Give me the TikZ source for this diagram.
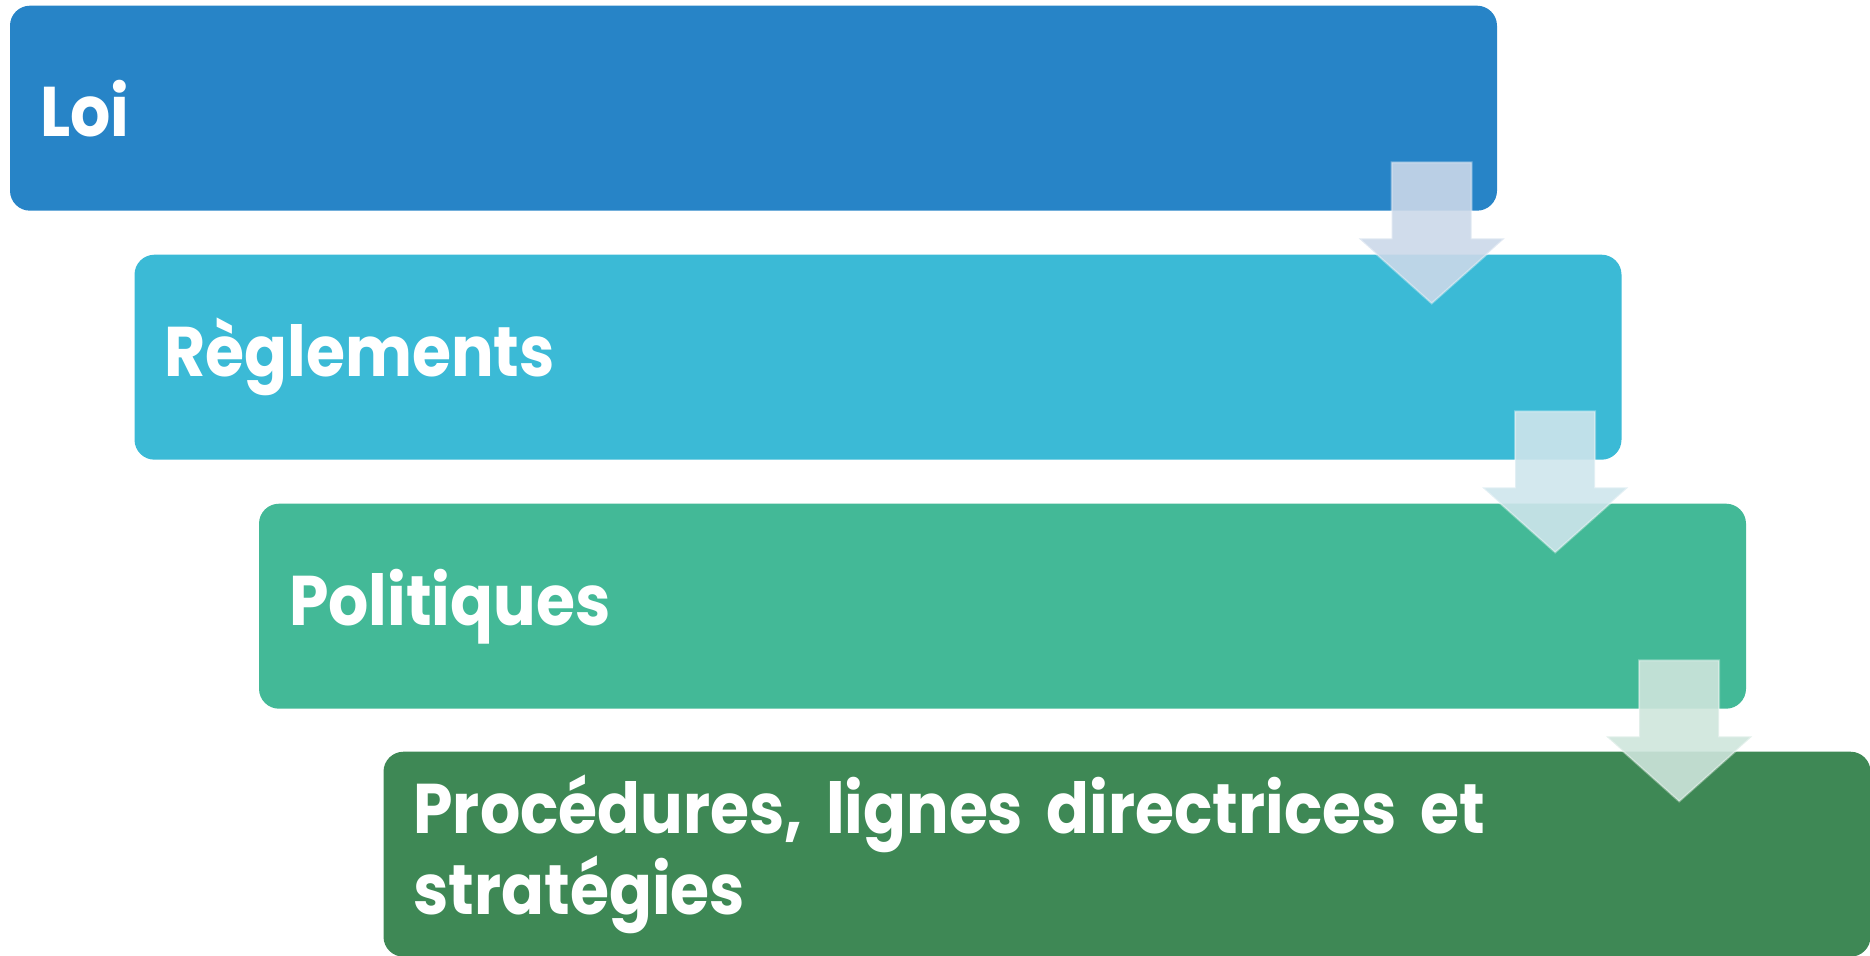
\documentclass[tikz,border=0pt]{standalone}
\usepackage{fontspec}
\setmainfont{Poppins}[FakeStretch=0.9]
\usetikzlibrary{calc}
\definecolor{loiblue}{HTML}{2784C7}
\definecolor{regcyan}{HTML}{3BBAD6}
\definecolor{polgreen}{HTML}{43B997}
\definecolor{procgreen}{HTML}{3E8855}
\definecolor{arrowA}{HTML}{CBD8E9}
\definecolor{arrowB}{HTML}{CEE5EC}
\definecolor{arrowC}{HTML}{CEE5DC}
\tikzset{
  levelbox/.style={rectangle, rounded corners=0.2cm, anchor=north west, minimum width=14.87cm, minimum height=2.05cm, text width=14.27cm, inner xsep=0.3cm, align=left, text=white, font=\bfseries\fontsize{20}{22}\selectfont},
  flowarrow/.pic={
    \filldraw[fill=#1, fill opacity=0.9, draw=white, draw opacity=0.35, line width=0.02cm] (-0.40,0) -- (0.40,0) -- (0.40,-0.76) -- (0.73,-0.76) -- (0,-1.41) -- (-0.73,-0.76) -- (-0.40,-0.76) -- cycle;
  }
}
\begin{document}
\begin{tikzpicture}
\useasboundingbox (0,0) rectangle (18.70,-9.56);
\node[levelbox, fill=loiblue] (loi) at (0.093,-0.05) {Loi};
\node[levelbox, fill=regcyan] (reglements) at (1.338,-2.54) {Règlements};
\node[levelbox, fill=polgreen] (politiques) at (2.583,-5.03) {Politiques};
\node[levelbox, fill=procgreen] (procedures) at (3.828,-7.51) {Procédures, lignes directrices et\\stratégies};
\pic at ($(loi.south east)+(-0.66,0.49)$) {flowarrow=arrowA};
\pic at ($(reglements.south east)+(-0.67,0.49)$) {flowarrow=arrowB};
\pic at ($(politiques.south east)+(-0.675,0.49)$) {flowarrow=arrowC};
\end{tikzpicture}
\end{document}
